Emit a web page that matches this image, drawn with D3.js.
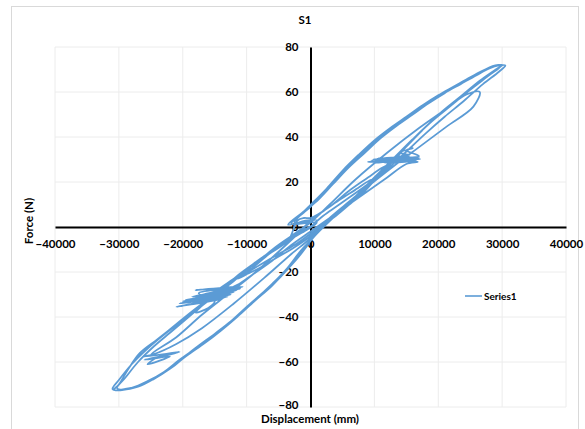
<!DOCTYPE html>
<html><head><meta charset="utf-8">
<script src="https://cdn.jsdelivr.net/npm/d3@7"></script>
<style>body{margin:0;background:#fff;} svg{display:block;}</style>
</head><body>
<svg id="c" width="585" height="429"></svg>
<script>
const title = "S1";
const xTitle = "Displacement (mm)";
const yTitle = "Force (N)";
const seriesName = "Series1";
const xTicks = [-40000,-30000,-20000,-10000,0,10000,20000,30000,40000];
const yTicks = [-80,-60,-40,-20,0,20,40,60,80];

// [displacement (mm), force (N)], in drawing order
const series1 = [
 [0,0],[2000,5],[4000,9],[6000,13],[8000,17],[10000,21],[8500,16],[6500,11],[4000,5],[2000,1],[0,-3],
 [-2500,-8],[-5000,-12],[-8000,-17],[-11500,-23],[-10000,-21],[-8000,-15],[-5500,-9],[-3000,-4],[-1000,0],[0,3],
 [2000,7],[4500,12],[7000,16.5],[9500,21],[8000,16],[5500,10],[3000,4],[1000,-1],[0,-4],
 [-2500,-9],[-5500,-14],[-8500,-19],[-11000,-22],[-9000,-18],[-6500,-12],[-3500,-6],[-2000,3],[-1000,4],[0,4],
 [3000,9],[6000,16],[9000,22],[11000,26],[12500,28.5],
 [9000,29],[15000,30],[10000,28.5],[16000,30.5],[11000,29.8],[17000,31],[12000,30.2],[14500,28.8],[9500,29.5],
 [16500,29.5],[10500,30.5],[17200,30.2],[11500,28.6],[16000,29.2],[9800,30],[15500,31.2],[12500,29.4],
 [16500,29.5],[13000,31],[15500,32],[14000,33],[16000,35],[15000,34],[17000,31.5],[13500,30],[16800,29],
 [15000,28],[12000,22],[9000,16],[6000,10],[3000,4],[0,-2],
 [-3000,-8],[-6000,-15],[-9000,-21],[-11000,-25],[-13000,-28],
 [-11000,-27],[-18000,-28],[-10600,-26.6],[-17000,-30],[-12000,-29],[-20000,-33],[-13000,-31],[-21000,-35.5],
 [-14000,-32],[-19000,-34.5],[-11500,-28],[-18500,-31],[-12500,-30],[-20500,-34],[-13500,-29],[-19500,-32.5],
 [-11000,-27.5],[-17500,-29.5],[-15000,-33],[-16000,-36],[-18000,-38],[-17000,-35],
 [-15000,-29],[-12000,-23],[-9000,-17],[-6000,-11],[-3000,-4],[0,2],
 [3000,10],[7000,21],[12000,33],[17000,44],[21000,52],[24500,59],[26500,60],
 [25500,53.5],[21300,44.6],[17000,35.5],[13000,27],[9000,18],[5000,8],[2000,1],[0,-5],
 [-3000,-12],[-7000,-22],[-12000,-34],[-17000,-45],[-21000,-52],[-24500,-56.5],[-26200,-57.6],
 [-21000,-56],[-26000,-59],[-22000,-57.5],[-25500,-61],[-24000,-58],[-20500,-55.5],[-25000,-57],
 [-21000,-49],[-17000,-39],[-13000,-30],[-9000,-21],[-5000,-11],[-2000,-3],[0,3],
 [-3500,1],[-1000,7],[0,9.8],[2500,17],[5000,25],[7500,32],[10000,38.5],[12500,44],[15000,49],[17500,54],
 [20000,58.5],[22500,62.5],[25000,66.5],[27000,69.5],[28500,71.5],[30000,72],
 [29000,70],[26500,65],[23500,58],[20300,50.6],[17500,43],[15000,35.7],[12500,28],[10000,21],[7500,14],
 [5000,8],[3500,4],[2000,0],[500,-4],[-600,-8.7],
 [-3000,-17],[-5900,-25],[-8500,-32],[-11000,-38.4],[-13500,-44.5],[-16200,-50],[-19000,-56],[-21500,-62],
 [-24000,-66.5],[-26700,-70.5],[-29000,-72],[-30800,-72.4],
 [-30000,-70],[-28500,-63],[-26700,-56],[-24000,-50],[-21500,-44.3],[-19000,-38.5],[-16200,-32.4],
 [-13500,-26.5],[-11000,-20.6],[-8500,-15.5],[-5900,-10.2],[-3000,-5],[-600,-1.3],[1000,2],
 [-3000,1.5],[-1000,6.5],[0,9],[2500,16.5],[5000,24],[7500,31],[10000,37.5],[12500,43],[15000,48.5],
 [17500,53.5],[20000,58],[22500,62],[25000,66],[27000,69.5],[29000,71.8],[29800,71.5],
 [28000,67.5],[25000,61],[22000,54],[19000,47],[16000,39],[13000,30.5],[10000,22],[7000,13.5],[4500,7],
 [2500,1.5],[500,-4.5],[-800,-9],
 [-3200,-17.5],[-6000,-26],[-8800,-33],[-11500,-40],[-14000,-46],[-16500,-51.5],[-19500,-57.5],[-22000,-63],
 [-24500,-67.5],[-27000,-71],[-29500,-72.3],[-30300,-71.5],
 [-29000,-67],[-27000,-60],[-24500,-53],[-22000,-47],[-19500,-41],[-17000,-35],[-14000,-28.5],[-11500,-22],
 [-9000,-16.5],[-6000,-10.5],[-3200,-5.5],[-800,-1.5],[1000,3],
 [-2500,2],[-500,8],[1000,11.5],[3500,19],[6000,26.5],[8500,33],[11000,39.5],[13500,45],[16000,50],
 [18500,55],[21000,59.5],[23500,63.5],[26000,67.5],[28000,70.5],[29500,71.8],[30500,71.8],
 [29500,69],[27000,63.5],[24000,56],[21000,49],[18000,41.5],[15000,33.5],[12000,25.5],[9000,18],[6000,10.5],
 [3500,4],[1500,-1.5],[0,-6],[-1500,-10.5],
 [-4000,-19.5],[-7000,-28],[-10000,-35.5],[-12500,-42],[-15000,-47.5],[-17500,-53],[-20500,-59],[-23000,-64.5],
 [-25500,-68.5],[-28000,-71.5],[-30500,-72.6],[-31000,-72],
 [-30000,-68],[-28000,-61],[-25500,-54],[-23000,-48],[-20000,-41.5],[-17500,-36],[-15000,-30.5],[-12000,-24],
 [-9500,-18],[-7000,-12.5],[-4000,-6.5],[-1500,-2],[500,1]
];

const svg = d3.select("#c");
const x = d3.scaleLinear().domain([-40000,40000]).range([55,566]);
const y = d3.scaleLinear().domain([-80,80]).range([407,47]);
const font = "Lato, 'Open Sans', sans-serif";

svg.append("rect").attr("x",11.5).attr("y",6.5).attr("width",567).attr("height",440)
  .attr("fill","#fff").attr("stroke","#d9d9d9").attr("stroke-width",1);

// gridlines
svg.append("g").selectAll("line").data(xTicks).join("line")
  .attr("x1",d=>x(d)).attr("x2",d=>x(d)).attr("y1",y(80)).attr("y2",y(-80))
  .attr("stroke","#ececec").attr("stroke-width",1);
svg.append("g").selectAll("line").data(yTicks).join("line")
  .attr("y1",d=>y(d)).attr("y2",d=>y(d)).attr("x1",x(-40000)).attr("x2",x(40000))
  .attr("stroke","#ececec").attr("stroke-width",1);

// axes crossing at origin
const xAxis = d3.axisBottom(x).tickValues(xTicks).tickSize(0).tickPadding(13).tickFormat(d3.format("d"));
const gx = svg.append("g").attr("transform",`translate(0,${y(0)})`).call(xAxis);
gx.select(".domain").attr("stroke","#000").attr("stroke-width",2);
gx.selectAll("text").attr("font-family",font).attr("font-weight","bold").attr("font-size",11.5).attr("fill","#000");

const yAxis = d3.axisLeft(y).tickValues(yTicks).tickSize(0).tickPadding(12).tickFormat(d3.format("d"));
const gy = svg.append("g").attr("transform",`translate(${x(0)},0)`).call(yAxis);
gy.select(".domain").attr("stroke","#000").attr("stroke-width",2);
gy.selectAll("text").attr("font-family",font).attr("font-weight","bold").attr("font-size",11.5).attr("fill","#000");
gy.selectAll(".tick").filter(d=>d===-80).select("text").attr("dy","0.15em");

// series
const line = d3.line().x(d=>x(d[0])).y(d=>y(d[1])).curve(d3.curveCatmullRom.alpha(0.5));
svg.append("path").datum(series1).attr("d",line)
  .attr("fill","none").attr("stroke","#5b9bd5").attr("stroke-width",1.8).attr("stroke-linejoin","round");

// titles
svg.append("text").attr("x",305).attr("y",24).attr("text-anchor","middle")
  .attr("font-family",font).attr("font-weight","bold").attr("font-size",11.5).text(title);
svg.append("text").attr("x",310).attr("y",423).attr("text-anchor","middle")
  .attr("font-family",font).attr("font-weight","bold").attr("font-size",11.5).text(xTitle);
svg.append("text").attr("transform","translate(33,221) rotate(-90)").attr("text-anchor","middle")
  .attr("font-family",font).attr("font-weight","bold").attr("font-size",11.5).text(yTitle);

// legend
svg.append("line").attr("x1",465).attr("x2",482).attr("y1",296).attr("y2",296)
  .attr("stroke","#5b9bd5").attr("stroke-width",1.6);
svg.append("text").attr("x",484).attr("y",299.5).attr("font-family",font).attr("font-weight","bold")
  .attr("font-size",10).text(seriesName);
</script>
</body></html>
